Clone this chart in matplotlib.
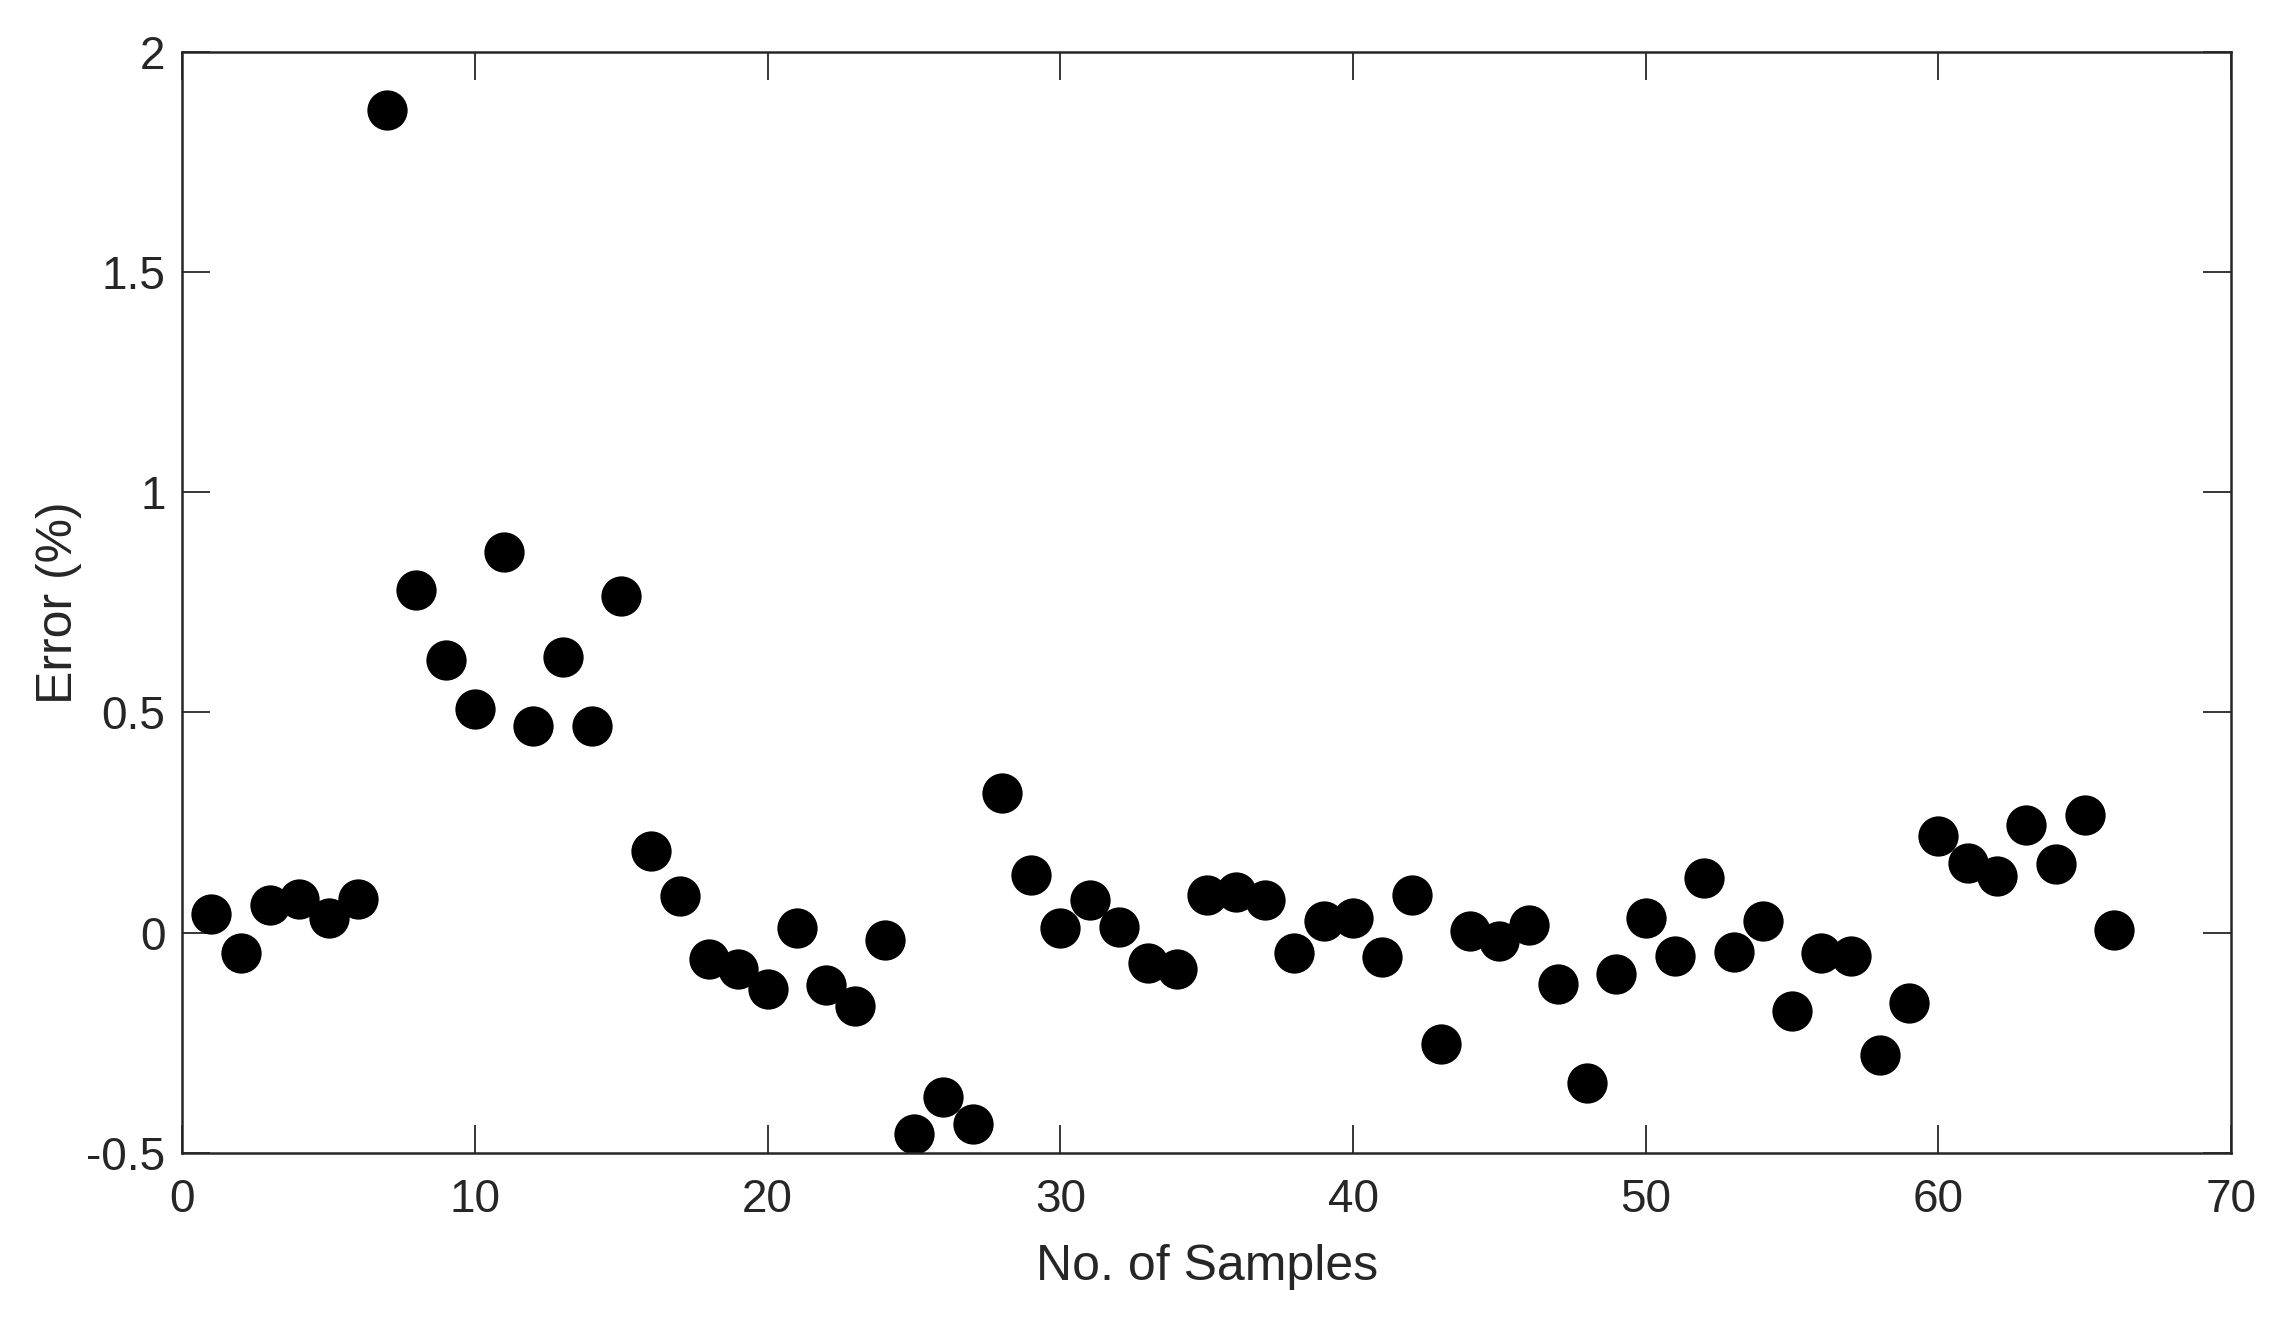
import matplotlib
matplotlib.use("Agg")
import matplotlib.pyplot as plt
import numpy as np

#Sample numbers and measured error
samples = np.arange(1, 67)
error = [0.043, -0.046, 0.063, 0.076, 0.033, 0.076, 1.868, 0.778, 0.619, 0.507,
         0.864, 0.470, 0.626, 0.470, 0.765, 0.185, 0.083, -0.060, -0.083, -0.129,
         0.010, -0.119, -0.166, -0.017, -0.457, -0.374, -0.434, 0.318, 0.132, 0.010,
         0.073, 0.013, -0.070, -0.083, 0.086, 0.093, 0.073, -0.046, 0.026, 0.033,
         -0.056, 0.086, -0.252, 0.003, -0.020, 0.017, -0.116, -0.341, -0.093, 0.033,
         -0.053, 0.123, -0.043, 0.026, -0.179, -0.046, -0.053, -0.278, -0.159, 0.219,
         0.159, 0.129, 0.245, 0.156, 0.268, 0.007]

#Axis ticks
x_ticks = [0, 10, 20, 30, 40, 50, 60, 70]
y_ticks = [-0.5, 0, 0.5, 1, 1.5, 2]
y_tick_labels = ["-0.5", "0", "0.5", "1", "1.5", "2"]

plt.rcParams['font.family'] = ['Liberation Sans', 'DejaVu Sans']
text_color = "#262626"

fig = plt.figure(figsize=(22.86, 13.19), dpi=100)
ax = fig.add_axes([0.0797, 0.126, 0.8963, 0.8346])

ax.plot(samples, error, "o", color="black", markersize=29, markeredgewidth=0)

ax.set_xlim(0, 70)
ax.set_ylim(-0.5, 2)
ax.set_xticks(x_ticks)
ax.set_yticks(y_ticks)
ax.set_yticklabels(y_tick_labels)
ax.tick_params(direction="in", length=20, width=1.3, top=True, right=True,
               labelsize=33, colors=text_color)
ax.tick_params(axis="x", pad=18)
ax.tick_params(axis="y", pad=12)
for spine in ax.spines.values():
    spine.set_linewidth(1.8)
    spine.set_color(text_color)

ax.set_xlabel("No. of Samples", fontsize=36, color=text_color)
ax.set_ylabel("Error (%)", fontsize=36, color=text_color)
ax.xaxis.set_label_coords(0.5, -0.083)
ax.yaxis.set_label_coords(-0.049, 0.5)

fig.savefig("out.png", dpi=100)
